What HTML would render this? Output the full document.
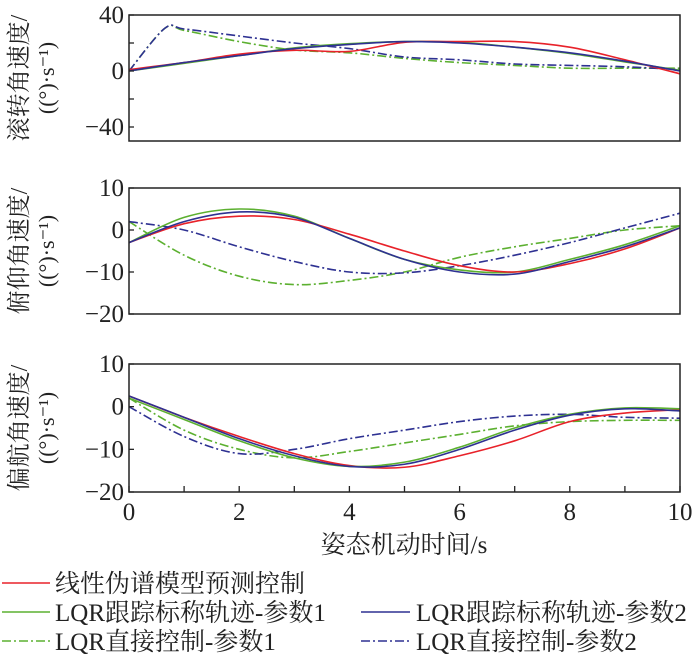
<!DOCTYPE html>
<html><head><meta charset="utf-8"><style>
body{margin:0;background:#fff;}
svg text{font-family:"Liberation Serif","Noto Serif CJK SC",serif;fill:#222;}
</style></head><body>
<svg id="chart" width="700" height="664" viewBox="0 0 700 664" xmlns="http://www.w3.org/2000/svg">
<g id="plots"></g>
<g><text x="404" y="553" font-size="25" text-anchor="middle">姿态机动时间/s</text></g>
<g>
 <g><line x1="2" y1="583" x2="50" y2="583" stroke="#e8222a" stroke-width="1.6"/><text x="55" y="592" font-size="25">线性伪谱模型预测控制</text></g>
 <g><line x1="2" y1="612" x2="50" y2="612" stroke="#5cb030" stroke-width="1.6"/><text x="55" y="621" font-size="25">LQR跟踪标称轨迹-参数1</text></g>
 <g><line x1="361" y1="612" x2="410" y2="612" stroke="#2e3192" stroke-width="1.6"/><text x="416" y="621" font-size="25">LQR跟踪标称轨迹-参数2</text></g>
 <g><line x1="2" y1="641" x2="50" y2="641" stroke="#5cb030" stroke-width="1.6" stroke-dasharray="9,3,2,3"/><text x="55" y="650" font-size="25">LQR直接控制-参数1</text></g>
 <g><line x1="361" y1="641" x2="410" y2="641" stroke="#2e3192" stroke-width="1.6" stroke-dasharray="9,3,2,3"/><text x="416" y="650" font-size="25">LQR直接控制-参数2</text></g>
</g>
</svg>
<script>
const tGrid = [0,1,2,3,4,5,6,7,8,9,10];
const rollRed   = [1,6,12,14.8,14,20.5,21,21,17,8,-2];
const rollBlue  = [0,6,11,16,19,21,20,17,13,7,0];
const rollGreen = [0,5.5,11,16.5,19.5,21,20.5,17,12.5,6.5,0.5];
const rollBlueDD_t = [0,0.65,1,2,3,4,5,6,7,8,9,10];
const rollBlueDD = [0,30.5,30,25,20,16,10,8,5,4,3,1];
const rollGreenDD = [0,30.5,29,21,15,13,9,6,4,2,2,2];
const pitchRed   = [-3,1.5,3.3,2.5,-1,-5,-8.5,-10,-8,-4.5,0.5];
const pitchBlue  = [-3,2,4.3,3,-2,-7,-10,-10.5,-7.5,-4,0.5];
const pitchGreen = [-3,3,5,3.3,-2,-7,-9.5,-10,-7,-3.5,1];
const pitchBlueDD  = [2,0,-4,-7.5,-10,-10.2,-8.5,-6,-3,0.5,4];
const pitchGreenDD = [2,-6,-11,-13,-12,-10,-6.5,-4,-2,0,1];
const yawRed   = [2.5,-2.5,-7,-11,-13.8,-14.2,-11.5,-8,-3.5,-1.5,-0.7];
const yawBlue  = [2.5,-2.5,-7.5,-11.5,-14,-13.5,-10,-5.5,-2,-0.5,-1];
const yawGreen = [2,-3,-8,-12,-14,-13,-9.5,-5,-1.8,-0.3,-0.5];
const yawBlueDD  = [0,-7,-11,-10,-7.5,-5.5,-3.5,-2.2,-1.8,-2.5,-2.7];
const yawGreenDD = [2,-5.5,-10,-12,-10.5,-8.5,-6.5,-4.5,-3.5,-3.2,-3.2];
const rollTicks = [40,20,0,-20,-40];
const rollLabels = ["40","","0","","\u221240"];
const pvTicks = [10,0,-10,-20];
const pvLabels = ["10","0","\u221210","\u221220"];
const xTicks = [0,1,2,3,4,5,6,7,8,9,10];
const xLabels = ["0","","2","","4","","6","","8","","10"];

const NS="http://www.w3.org/2000/svg";
const X0=129,X1=680;
const xs=t=>X0+(t/10)*(X1-X0);
const RED="#e8222a",GREEN="#5cb030",BLUE="#2e3192";
const root=document.getElementById('plots');
function mk(tag,attrs,parent){const e=document.createElementNS(NS,tag);for(const k in attrs)e.setAttribute(k,attrs[k]);parent.appendChild(e);return e;}
function smoothPath(px){let d=`M${px[0][0]},${px[0][1]}`;for(let i=0;i<px.length-1;i++){const p0=px[Math.max(0,i-1)],p1=px[i],p2=px[i+1],p3=px[Math.min(px.length-1,i+2)];const k=6;const c1=[p1[0]+(p2[0]-p0[0])/k,p1[1]+(p2[1]-p0[1])/k],c2=[p2[0]-(p3[0]-p1[0])/k,p2[1]-(p3[1]-p1[1])/k];d+=` C${c1[0]},${c1[1]} ${c2[0]},${c2[1]} ${p2[0]},${p2[1]}`;}return d;}
function panel(name,top,bot,ymax,ymin,ticks,labels,series,xaxis,ylab){
  const g=mk('g',{},root);
  
  
  const ys=v=>top+(ymax-v)/(ymax-ymin)*(bot-top);
  const clip=mk('clipPath',{id:'c'+name},g);mk('rect',{x:X0,y:top,width:X1-X0,height:bot-top},clip);
  series.forEach(s=>{
    const px=s.v.map((v,i)=>[xs(s.t[i]),ys(v)]);
    const p=mk('path',{d:smoothPath(px),fill:'none',stroke:s.c,'stroke-width':1.6,'clip-path':`url(#c${name})`},g);
    if(s.dd)p.setAttribute('stroke-dasharray','9,3,2,3');
    
    
  });
  const fr=mk('rect',{x:X0,y:top,width:X1-X0,height:bot-top,fill:'none',stroke:'#222','stroke-width':1.5},g);
  
  
  ticks.forEach((v,i)=>{
    mk('line',{x1:X0,x2:X0+5,y1:ys(v),y2:ys(v),stroke:'#222','stroke-width':1.3},g);
    if(labels[i]){const t=mk('text',{x:X0-5,y:ys(v)+8,'font-size':25,'text-anchor':'end'},g);t.textContent=labels[i];
      
      }
  });
  const yl=mk('text',{transform:`translate(27,${(top+bot)/2}) rotate(-90)`,'font-size':24,'text-anchor':'middle'},g);
  yl.textContent=ylab;
  
  
  const yl2=mk('text',{transform:`translate(54,${(top+bot)/2}) rotate(-90)`,'font-size':22,'text-anchor':'middle'},g);
  yl2.textContent='((°)·s\u207B\u00B9)';
  
  
  if(xaxis){xTicks.forEach((v,i)=>{mk('line',{x1:xs(v),x2:xs(v),y1:bot,y2:bot-6,stroke:'#222','stroke-width':1.3},g);
    if(xLabels[i]){const t=mk('text',{x:xs(v),y:bot+28,'font-size':25,'text-anchor':'middle'},g);t.textContent=xLabels[i];
      
      }});}
}
panel('roll-panel',15,141,40,-50,rollTicks,rollLabels,[
 {t:rollBlueDD_t,v:rollGreenDD,c:GREEN,dd:true,n:'roll-green-dashdot'},
 {t:rollBlueDD_t,v:rollBlueDD,c:BLUE,dd:true,n:'roll-blue-dashdot'},
 {t:tGrid,v:rollGreen,c:GREEN,n:'roll-green-line'},
 {t:tGrid,v:rollRed,c:RED,n:'roll-red-line'},
 {t:tGrid,v:rollBlue,c:BLUE,n:'roll-blue-line'}],false,'滚转角速度/');
panel('pitch-panel',188,314,10,-20,pvTicks,pvLabels,[
 {t:tGrid,v:pitchGreenDD,c:GREEN,dd:true,n:'pitch-green-dashdot'},
 {t:tGrid,v:pitchBlueDD,c:BLUE,dd:true,n:'pitch-blue-dashdot'},
 {t:tGrid,v:pitchGreen,c:GREEN,n:'pitch-green-line'},
 {t:tGrid,v:pitchRed,c:RED,n:'pitch-red-line'},
 {t:tGrid,v:pitchBlue,c:BLUE,n:'pitch-blue-line'}],false,'俯仰角速度/');
panel('yaw-panel',364,492,10,-20,pvTicks,pvLabels,[
 {t:tGrid,v:yawGreenDD,c:GREEN,dd:true,n:'yaw-green-dashdot'},
 {t:tGrid,v:yawBlueDD,c:BLUE,dd:true,n:'yaw-blue-dashdot'},
 {t:tGrid,v:yawRed,c:RED,n:'yaw-red-line'},
 {t:tGrid,v:yawGreen,c:GREEN,n:'yaw-green-line'},
 {t:tGrid,v:yawBlue,c:BLUE,n:'yaw-blue-line'}],true,'偏航角速度/');
</script>
</body></html>
